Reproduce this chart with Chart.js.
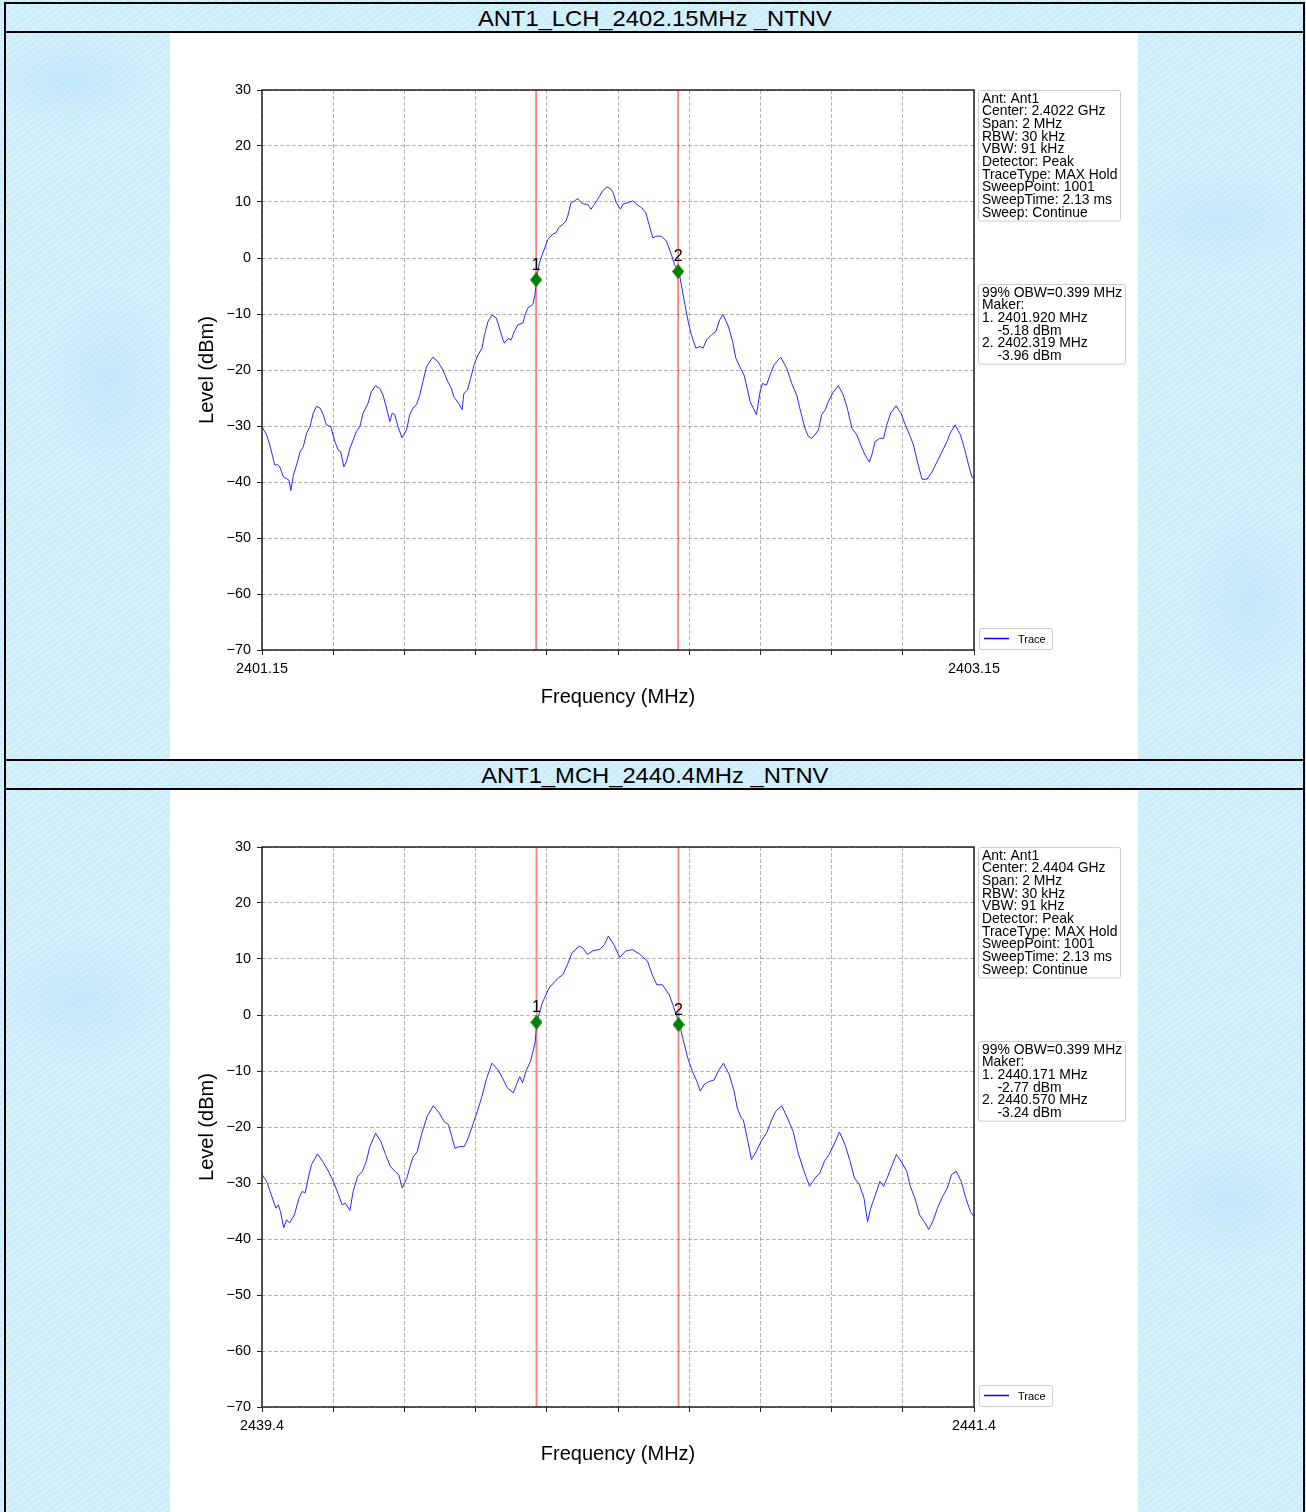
<!DOCTYPE html>
<html>
<head>
<meta charset="utf-8">
<title>ANT1 OBW</title>
<script src="https://cdn.jsdelivr.net/npm/chart.js@4.4.1/dist/chart.umd.min.js"></script>
<style>
  html, body { margin: 0; padding: 0; }
  body {
    width: 1306px; height: 1512px; overflow: hidden;
    background-color: #cdedfb;
    background-image:
      radial-gradient(ellipse 80px 45px at 70px 80px, rgba(165,215,245,0.35), transparent),
      radial-gradient(ellipse 60px 90px at 110px 380px, rgba(165,215,245,0.30), transparent),
      radial-gradient(ellipse 90px 50px at 1220px 220px, rgba(165,215,245,0.30), transparent),
      radial-gradient(ellipse 60px 90px at 1250px 600px, rgba(165,215,245,0.30), transparent),
      radial-gradient(ellipse 80px 60px at 80px 1000px, rgba(165,215,245,0.30), transparent),
      radial-gradient(ellipse 80px 60px at 1230px 1200px, rgba(165,215,245,0.30), transparent),
      repeating-linear-gradient(-35deg, rgba(255,255,255,0.35) 0 1px, transparent 1px 5px);
  }
  #sheet { position: absolute; left: 4px; top: 2px; width: 1297px; border: 2px solid #000; border-bottom: none; }
  .ttl {
    height: 27px; line-height: 29px; text-align: center; white-space: nowrap;
    font-family: "Liberation Sans", Arial, sans-serif; font-size: 22px; color: #000;
    border-bottom: 2px solid #000;
  }
  .ttl span { display: inline-block; transform: scaleX(1.08); }
  .row { position: relative; height: 726px; border-bottom: 2px solid #000; }
  .fig { position: absolute; left: 164px; top: 0; width: 968px; height: 726px; background: #fff; }
  canvas { display: block; }
</style>
</head>
<body>
<div id="sheet">
  <div class="ttl"><span>ANT1_LCH_2402.15MHz _NTNV</span></div>
  <div class="row"><div class="fig"><canvas id="lchChart" width="968" height="726"></canvas></div></div>
  <div class="ttl"><span>ANT1_MCH_2440.4MHz _NTNV</span></div>
  <div class="row"><div class="fig"><canvas id="mchChart" width="968" height="726"></canvas></div></div>
</div>
<script>
/* ---------- 共通の軸 ---------- */
var yTicks = [-70, -60, -50, -40, -30, -20, -10, 0, 10, 20, 30];
var yLabels = ["\u221270", "\u221260", "\u221250", "\u221240", "\u221230", "\u221220", "\u221210", "0", "10", "20", "30"];

/* ---------- LCH 2402.15MHz ---------- */
var lchFreq = [
  2401.150, 2401.163, 2401.172, 2401.179, 2401.186, 2401.194, 2401.200, 2401.210, 2401.219, 2401.226,
  2401.231, 2401.238, 2401.247, 2401.257, 2401.266, 2401.275, 2401.285, 2401.294, 2401.303, 2401.313,
  2401.322, 2401.331, 2401.343, 2401.355, 2401.364, 2401.371, 2401.380, 2401.387, 2401.397, 2401.406,
  2401.415, 2401.425, 2401.434, 2401.448, 2401.457, 2401.469, 2401.481, 2401.490, 2401.500, 2401.509,
  2401.516, 2401.523, 2401.532, 2401.543, 2401.556, 2401.565, 2401.574, 2401.584, 2401.593, 2401.602,
  2401.612, 2401.630, 2401.644, 2401.658, 2401.672, 2401.682, 2401.689, 2401.702, 2401.712, 2401.717,
  2401.727, 2401.736, 2401.747, 2401.757, 2401.768, 2401.775, 2401.785, 2401.796, 2401.808, 2401.817,
  2401.827, 2401.831, 2401.841, 2401.850, 2401.859, 2401.869, 2401.883, 2401.889, 2401.897, 2401.911,
  2401.917, 2401.921, 2401.929, 2401.939, 2401.953, 2401.967, 2401.976, 2401.983, 2401.995, 2402.004,
  2402.009, 2402.018, 2402.028, 2402.037, 2402.046, 2402.056, 2402.065, 2402.074, 2402.084, 2402.093,
  2402.107, 2402.119, 2402.130, 2402.136, 2402.145, 2402.157, 2402.164, 2402.178, 2402.192, 2402.202,
  2402.216, 2402.228, 2402.237, 2402.248, 2402.258, 2402.272, 2402.286, 2402.300, 2402.309, 2402.321,
  2402.328, 2402.338, 2402.347, 2402.356, 2402.369, 2402.380, 2402.389, 2402.399, 2402.413, 2402.425,
  2402.436, 2402.445, 2402.460, 2402.472, 2402.481, 2402.492, 2402.504, 2402.513, 2402.521, 2402.530,
  2402.539, 2402.549, 2402.556, 2402.567, 2402.577, 2402.588, 2402.607, 2402.624, 2402.638, 2402.652,
  2402.663, 2402.675, 2402.685, 2402.694, 2402.703, 2402.713, 2402.722, 2402.732, 2402.741, 2402.755,
  2402.769, 2402.783, 2402.794, 2402.807, 2402.821, 2402.832, 2402.844, 2402.856, 2402.863, 2402.872,
  2402.885, 2402.896, 2402.905, 2402.916, 2402.931, 2402.945, 2402.957, 2402.971, 2402.980, 2402.991,
  2403.004, 2403.018, 2403.032, 2403.046, 2403.060, 2403.074, 2403.083, 2403.097, 2403.112, 2403.123,
  2403.135, 2403.144, 2403.150
];
var lchLevel = [
  -30.1, -31.6, -33.4, -35.2, -37.0, -36.9, -37.3, -39.1, -39.4, -39.7,
  -41.5, -38.8, -37.0, -34.6, -33.7, -31.3, -30.1, -27.7, -26.5, -26.8,
  -28.0, -29.8, -30.1, -32.8, -34.3, -34.6, -37.3, -36.4, -34.0, -32.5,
  -31.0, -30.1, -27.7, -25.9, -23.9, -22.8, -23.3, -24.5, -26.8, -29.2,
  -27.7, -28.0, -30.1, -32.1, -30.7, -28.0, -26.8, -26.2, -24.5, -22.1,
  -19.4, -17.7, -18.5, -20.0, -22.1, -23.3, -24.8, -25.9, -27.1, -24.2,
  -23.6, -21.5, -18.8, -17.3, -16.1, -13.7, -11.3, -10.2, -10.7, -12.5,
  -14.6, -15.2, -14.4, -14.6, -13.1, -11.9, -11.6, -10.1, -8.9, -8.3,
  -6.5, -3.9, -0.9, 0.9, 3.3, 4.3, 4.5, 5.4, 6.0, 6.6,
  7.5, 9.9, 10.2, 10.6, 9.9, 9.6, 9.6, 8.7, 9.6, 10.5,
  12.0, 12.7, 12.3, 11.7, 9.9, 8.7, 9.6, 9.9, 10.2, 9.6,
  9.0, 8.1, 6.0, 3.6, 3.9, 3.9, 3.0, 0.6, -1.2, -2.4,
  -4.8, -8.3, -11.3, -13.7, -16.1, -15.8, -16.1, -14.6, -13.7, -13.1,
  -11.0, -10.1, -12.2, -14.9, -17.9, -19.4, -20.9, -23.3, -25.6, -26.8,
  -28.0, -23.9, -22.4, -22.7, -20.9, -19.1, -17.7, -19.7, -22.4, -24.5,
  -27.4, -30.4, -31.9, -32.2, -31.6, -30.7, -28.0, -27.1, -25.6, -23.9,
  -22.8, -24.5, -26.8, -30.4, -31.6, -33.4, -35.2, -36.4, -35.2, -32.8,
  -32.2, -32.2, -29.8, -27.7, -26.4, -27.7, -29.8, -31.9, -33.4, -36.4,
  -39.5, -39.5, -38.2, -36.4, -34.6, -32.8, -31.3, -29.8, -31.6, -34.0,
  -37.0, -39.1, -39.3
];
var lchXTicks = [2401.15, 2401.35, 2401.55, 2401.75, 2401.95, 2402.15, 2402.35, 2402.55, 2402.75, 2402.95, 2403.15];
var lchXLabels = ["2401.15", "", "", "", "", "", "", "", "", "", "2403.15"];
var lchMarkFreq = [2401.920, 2402.319];
var lchMarkLevel = [-3.9, -2.4];
var lchInfo = ["Ant: Ant1", "Center: 2.4022 GHz", "Span: 2 MHz", "RBW: 30 kHz", "VBW: 91 kHz",
  "Detector: Peak", "TraceType: MAX Hold", "SweepPoint: 1001", "SweepTime: 2.13 ms", "Sweep: Continue"];
var lchObw = ["99% OBW=0.399 MHz", "Maker:", "1. 2401.920 MHz", "    -5.18 dBm", "2. 2402.319 MHz", "    -3.96 dBm"];

/* ---------- MCH 2440.4MHz ---------- */
var mchFreq = [
  2439.400, 2439.413, 2439.426, 2439.439, 2439.446, 2439.452, 2439.461, 2439.469, 2439.478, 2439.491,
  2439.504, 2439.513, 2439.521, 2439.530, 2439.539, 2439.556, 2439.573, 2439.589, 2439.602, 2439.615,
  2439.625, 2439.634, 2439.647, 2439.656, 2439.669, 2439.682, 2439.693, 2439.703, 2439.719, 2439.734,
  2439.747, 2439.760, 2439.773, 2439.784, 2439.794, 2439.807, 2439.823, 2439.836, 2439.849, 2439.864,
  2439.881, 2439.898, 2439.911, 2439.924, 2439.933, 2439.942, 2439.955, 2439.968, 2439.979, 2439.992,
  2440.005, 2440.018, 2440.031, 2440.046, 2440.063, 2440.076, 2440.089, 2440.106, 2440.115, 2440.124,
  2440.132, 2440.141, 2440.154, 2440.167, 2440.172, 2440.187, 2440.206, 2440.223, 2440.232, 2440.245,
  2440.258, 2440.271, 2440.291, 2440.301, 2440.314, 2440.330, 2440.349, 2440.362, 2440.373, 2440.388,
  2440.405, 2440.421, 2440.440, 2440.460, 2440.483, 2440.496, 2440.509, 2440.525, 2440.544, 2440.557,
  2440.573, 2440.583, 2440.596, 2440.609, 2440.622, 2440.631, 2440.642, 2440.655, 2440.670, 2440.681,
  2440.696, 2440.713, 2440.726, 2440.735, 2440.746, 2440.752, 2440.765, 2440.775, 2440.788, 2440.804,
  2440.817, 2440.830, 2440.843, 2440.860, 2440.876, 2440.892, 2440.905, 2440.921, 2440.938, 2440.954,
  2440.967, 2440.980, 2440.993, 2441.006, 2441.022, 2441.038, 2441.052, 2441.064, 2441.078, 2441.091,
  2441.101, 2441.110, 2441.123, 2441.136, 2441.146, 2441.156, 2441.169, 2441.182, 2441.198, 2441.211,
  2441.221, 2441.234, 2441.247, 2441.260, 2441.273, 2441.286, 2441.299, 2441.312, 2441.325, 2441.337,
  2441.350, 2441.364, 2441.377, 2441.390, 2441.400
];
var mchLevel = [
  -28.5, -29.7, -32.1, -34.5, -33.9, -35.1, -38.0, -36.6, -37.1, -35.7,
  -32.7, -31.5, -31.8, -29.1, -26.7, -24.8, -26.4, -28.2, -30.0, -32.1,
  -33.9, -33.6, -34.9, -31.5, -28.8, -27.9, -26.1, -23.5, -21.1, -22.6,
  -24.9, -27.0, -27.9, -28.5, -30.9, -29.1, -25.5, -24.4, -21.1, -18.1,
  -16.2, -17.5, -19.0, -19.6, -21.7, -23.8, -23.5, -23.5, -22.0, -19.6,
  -17.2, -14.5, -11.3, -8.6, -9.8, -11.3, -13.0, -13.9, -12.4, -11.0,
  -12.1, -10.1, -8.3, -5.0, -1.3, 2.1, 4.8, 6.0, 6.6, 7.2,
  9.0, 11.1, 12.3, 12.0, 10.8, 11.5, 11.7, 12.6, 14.1, 12.6,
  10.3, 11.4, 11.7, 10.9, 9.6, 7.2, 5.4, 5.4, 3.6, 1.3,
  -1.7, -4.4, -7.7, -10.1, -11.9, -13.6, -12.4, -11.9, -11.6, -10.1,
  -8.6, -10.7, -13.6, -16.6, -18.4, -18.7, -22.6, -25.8, -24.4, -22.3,
  -21.1, -19.0, -17.2, -16.2, -18.4, -20.8, -24.4, -27.6, -30.6, -29.1,
  -28.2, -26.1, -24.9, -23.2, -20.9, -23.2, -26.1, -29.1, -30.3, -32.7,
  -36.9, -34.5, -32.1, -29.7, -30.6, -29.1, -27.0, -24.9, -26.4, -27.9,
  -30.6, -32.7, -35.7, -36.9, -38.3, -36.6, -34.2, -32.4, -30.9, -28.5,
  -27.9, -29.7, -32.7, -35.1, -36.0
];
var mchXTicks = [2439.4, 2439.6, 2439.8, 2440.0, 2440.2, 2440.4, 2440.6, 2440.8, 2441.0, 2441.2, 2441.4];
var mchXLabels = ["2439.4", "", "", "", "", "", "", "", "", "", "2441.4"];
var mchMarkFreq = [2440.171, 2440.570];
var mchMarkLevel = [-1.3, -1.7];
var mchInfo = ["Ant: Ant1", "Center: 2.4404 GHz", "Span: 2 MHz", "RBW: 30 kHz", "VBW: 91 kHz",
  "Detector: Peak", "TraceType: MAX Hold", "SweepPoint: 1001", "SweepTime: 2.13 ms", "Sweep: Continue"];
var mchObw = ["99% OBW=0.399 MHz", "Maker:", "1. 2440.171 MHz", "    -2.77 dBm", "2. 2440.570 MHz", "    -3.24 dBm"];

/* ---------- 描画 ---------- */
var FONT = '"Liberation Sans", Arial, sans-serif';
var TRACE_COLOR = "rgb(40,40,255)";

function pairs(xs, ys) {
  var out = [];
  for (var i = 0; i < xs.length; i++) out.push({ x: xs[i], y: ys[i] });
  return out;
}

function makeDiamond() {
  var c = document.createElement("canvas");
  c.width = 12; c.height = 15;
  var g = c.getContext("2d");
  g.fillStyle = "#008000";
  g.beginPath();
  g.moveTo(6, 0); g.lineTo(12, 7.5); g.lineTo(6, 15); g.lineTo(0, 7.5);
  g.closePath();
  g.fill();
  return c;
}

function drawBox(ctx, x, y, lines) {
  var step = 12.7;
  ctx.font = "13.9px " + FONT;
  var w = 0;
  lines.forEach(function (t) { w = Math.max(w, ctx.measureText(t).width); });
  ctx.fillStyle = "rgba(255,255,255,0.8)";
  ctx.strokeStyle = "#cccccc";
  ctx.lineWidth = 1;
  ctx.beginPath();
  ctx.roundRect(x + 0.5, y + 0.5, Math.round(w) + 7, lines.length * step + 3.5, 2);
  ctx.fill();
  ctx.stroke();
  ctx.fillStyle = "#000";
  ctx.textAlign = "left";
  ctx.textBaseline = "alphabetic";
  lines.forEach(function (t, i) { ctx.fillText(t, x + 4, y + 12.5 + i * step); });
}

function makeOverlay(p) {
  return {
    id: "overlay",
    afterDraw: function (chart) {
      var ctx = chart.ctx, a = chart.chartArea;
      var xs = chart.scales.x, ys = chart.scales.y;
      ctx.save();
      // 枠
      ctx.strokeStyle = "#222";
      ctx.lineWidth = 1.5;
      ctx.strokeRect(a.left, a.top, a.right - a.left, a.bottom - a.top);
      // マーカー番号
      ctx.fillStyle = "#000";
      ctx.font = "16px " + FONT;
      ctx.textAlign = "center";
      ctx.textBaseline = "alphabetic";
      p.markFreq.forEach(function (f, i) {
        ctx.fillText(String(i + 1), xs.getPixelForValue(f), ys.getPixelForValue(p.markLevel[i]) - 10);
      });
      // 情報ボックス
      drawBox(ctx, a.right + 4, a.top, p.info);
      drawBox(ctx, a.right + 4, a.top + 194, p.obw);
      // 凡例
      var lx = a.right + 5, ly = a.bottom - 22;
      ctx.fillStyle = "rgba(255,255,255,0.8)";
      ctx.strokeStyle = "#cccccc";
      ctx.lineWidth = 1;
      ctx.beginPath();
      ctx.roundRect(lx + 0.5, ly + 0.5, 73, 21, 2);
      ctx.fill();
      ctx.stroke();
      ctx.strokeStyle = "#0000ff";
      ctx.lineWidth = 1.5;
      ctx.beginPath();
      ctx.moveTo(lx + 5, ly + 10.5);
      ctx.lineTo(lx + 30, ly + 10.5);
      ctx.stroke();
      ctx.fillStyle = "#000";
      ctx.font = "11px " + FONT;
      ctx.textAlign = "left";
      ctx.fillText(chart.data.datasets[0].label, lx + 39, ly + 14.5);
      ctx.restore();
    }
  };
}

function buildChart(canvasId, p) {
  var ctx = document.getElementById(canvasId).getContext("2d");
  var diamond = makeDiamond();
  var datasets = [
    {
      label: "Trace",
      data: pairs(p.freq, p.level),
      borderColor: TRACE_COLOR,
      borderWidth: 1,
      pointRadius: 0,
      tension: 0,
      order: 3
    }
  ];
  p.markFreq.forEach(function (f) {
    datasets.push({
      label: "line",
      data: [{ x: f, y: -70 }, { x: f, y: 30 }],
      borderColor: "rgba(255,0,0,0.5)",
      borderWidth: 1.8,
      pointRadius: 0,
      order: 2
    });
  });
  datasets.push({
    type: "scatter",
    label: "marker",
    data: pairs(p.markFreq, p.markLevel),
    pointStyle: diamond,
    pointRadius: 6,
    order: 1
  });

  new Chart(ctx, {
    type: "line",
    data: { datasets: datasets },
    options: {
      responsive: false,
      animation: false,
      events: [],
      layout: { padding: { left: 0, top: 57, right: 164, bottom: 0 } },
      plugins: { legend: { display: false }, tooltip: { enabled: false } },
      scales: {
        x: {
          type: "linear",
          min: p.xTicks[0],
          max: p.xTicks[p.xTicks.length - 1],
          afterBuildTicks: function (s) {
            s.ticks = p.xTicks.map(function (v) { return { value: v }; });
          },
          afterFit: function (s) {
            s.height = 109;
            s.paddingLeft = 0;
            s.paddingRight = 0;
          },
          ticks: {
            autoSkip: false,
            maxRotation: 0,
            padding: 5,
            color: "#000",
            font: { family: FONT, size: 14.4 },
            callback: function (v, i) { return p.xLabels[i]; }
          },
          grid: { color: "#a0a0a0", lineWidth: 0.8, tickLength: 5, tickColor: "#222", tickWidth: 1 },
          border: { display: false, dash: [4, 2] },
          title: {
            display: true,
            text: "Frequency (MHz)",
            color: "#000",
            font: { family: FONT, size: 20 },
            padding: { top: 0, bottom: 50 }
          }
        },
        y: {
          min: -70,
          max: 30,
          afterBuildTicks: function (s) {
            s.ticks = yTicks.map(function (v) { return { value: v }; });
          },
          afterFit: function (s) {
            s.width = 92;
            s.paddingTop = 0;
            s.paddingBottom = 0;
          },
          ticks: {
            padding: 6,
            color: "#000",
            font: { family: FONT, size: 14.4 },
            callback: function (v, i) { return yLabels[i]; }
          },
          grid: { color: "#a0a0a0", lineWidth: 0.8, tickLength: 5, tickColor: "#222", tickWidth: 1 },
          border: { display: false, dash: [4, 2] },
          title: {
            display: true,
            text: "Level (dBm)",
            color: "#000",
            font: { family: FONT, size: 20 },
            padding: { top: 25, bottom: 0 }
          }
        }
      }
    },
    plugins: [makeOverlay(p)]
  });
}

function init() {
  if (typeof Chart === "undefined") return;
  buildChart("lchChart", {
    freq: lchFreq, level: lchLevel, xTicks: lchXTicks, xLabels: lchXLabels,
    markFreq: lchMarkFreq, markLevel: lchMarkLevel, info: lchInfo, obw: lchObw
  });
  buildChart("mchChart", {
    freq: mchFreq, level: mchLevel, xTicks: mchXTicks, xLabels: mchXLabels,
    markFreq: mchMarkFreq, markLevel: mchMarkLevel, info: mchInfo, obw: mchObw
  });
}

if (document.readyState === "loading") {
  document.addEventListener("DOMContentLoaded", init);
} else {
  init();
}
</script>
</body>
</html>
